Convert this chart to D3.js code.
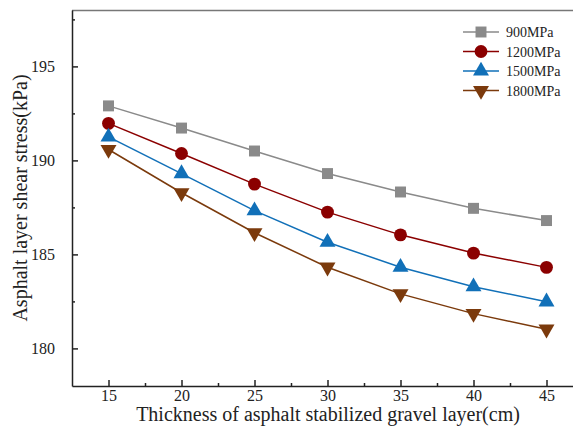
<!DOCTYPE html>
<meta charset="utf-8">
<style>
body { margin: 0; background: #fff; }
text { font-family: "Liberation Serif", "Times New Roman", serif; fill: #222; }
</style>
<body>
<svg class="chart"></svg>
<script src="https://cdn.jsdelivr.net/npm/d3@7"></script>
<script>
// thickness (cm)
var thickness = [15, 20, 25, 30, 35, 40, 45];
var seriesNames = ["900MPa", "1200MPa", "1500MPa", "1800MPa"];
var s900  = [192.9, 191.72, 190.5, 189.3, 188.32, 187.45, 186.8];
var s1200 = [191.97, 190.37, 188.74, 187.25, 186.04, 185.07, 184.31];
var s1500 = [191.25, 189.3, 187.33, 185.65, 184.32, 183.28, 182.48];
var s1800 = [190.58, 188.28, 186.15, 184.32, 182.9, 181.85, 181.02];
var xTicks = [15, 20, 25, 30, 35, 40, 45];
var yTicks = [180, 185, 190, 195];

var width = 573, height = 439;
var colors = ["#8a8a8a", "#8b0000", "#1170b8", "#7b3a0c"];
var symbols = [d3.symbolSquare, d3.symbolCircle, d3.symbolTriangle, "down"];
var allSeries = [s900, s1200, s1500, s1800];

var svg = d3.select(".chart").attr("width", width).attr("height", height);

var x = d3.scaleLinear().domain([12.5, 47.5]).range([72, 583]);
var y = d3.scaleLinear().domain([178, 198]).range([386, 10]);

// frame top line
svg.append("line")
  .attr("x1", 72).attr("x2", width).attr("y1", 10.5).attr("y2", 10.5)
  .attr("stroke", "#777").attr("stroke-width", 1.5);

function axisStyle(g) {
  g.select(".domain").attr("stroke", "#222").attr("stroke-width", 1.5);
  g.selectAll(".tick line").attr("stroke", "#222").attr("stroke-width", 1.5);
  g.selectAll(".tick text").attr("font-size", "16px").attr("fill", "#222");
}

// minor ticks
var xMinor = d3.range(17.5, 47.6, 5);
var yMinor = [182.5, 187.5, 192.5, 197.5];

svg.append("g").attr("transform", "translate(0,386)")
  .call(d3.axisTop(x).tickValues(xMinor).tickSize(3).tickFormat(""))
  .call(function (g) { g.select(".domain").remove(); g.selectAll(".tick line").attr("stroke", "#222").attr("stroke-width", 1.5); });
svg.append("g").attr("transform", "translate(72,0)")
  .call(d3.axisRight(y).tickValues(yMinor).tickSize(3).tickFormat(""))
  .call(function (g) { g.select(".domain").remove(); g.selectAll(".tick line").attr("stroke", "#222").attr("stroke-width", 1.5); });

svg.append("g").attr("transform", "translate(0,386)")
  .call(d3.axisBottom(x).tickValues(xTicks).tickSizeInner(-6).tickSizeOuter(0).tickPadding(4))
  .call(axisStyle);
svg.append("g").attr("transform", "translate(72,0)")
  .call(d3.axisLeft(y).tickValues(yTicks).tickSizeInner(-6).tickSizeOuter(0).tickPadding(17))
  .call(axisStyle);

svg.append("text")
  .attr("x", 328).attr("y", 421)
  .attr("text-anchor", "middle").attr("font-size", "20px")
  .text("Thickness of asphalt stabilized gravel layer(cm)");

svg.append("text")
  .attr("transform", "translate(27,198) rotate(-90)")
  .attr("text-anchor", "middle").attr("font-size", "20px")
  .text("Asphalt layer shear stress(kPa)");

function markerPath(i, size) {
  if (symbols[i] === "down") {
    return d3.symbol().type(d3.symbolTriangle).size(size)();
  }
  return d3.symbol().type(symbols[i]).size(size)();
}
var markerSize = [120, 130, 110, 110];

var line = d3.line()
  .x(function (d, i) { return x(thickness[i]); })
  .y(function (d) { return y(d); });

allSeries.forEach(function (vals, i) {
  var g = svg.append("g");
  g.append("path").datum(vals)
    .attr("d", line).attr("fill", "none")
    .attr("stroke", colors[i]).attr("stroke-width", 1.5);
  g.selectAll("path.pt").data(vals).enter().append("path")
    .attr("class", "pt")
    .attr("d", markerPath(i, markerSize[i]))
    .attr("transform", function (d, j) {
      return "translate(" + x(thickness[j]) + "," + y(d) + ")" + (symbols[i] === "down" ? " rotate(180)" : "");
    })
    .attr("fill", colors[i]);
});

// legend
var legend = svg.append("g").attr("transform", "translate(463,32)");
seriesNames.forEach(function (name, i) {
  var row = legend.append("g").attr("transform", "translate(0," + i * 19.5 + ")");
  row.append("line").attr("x1", 0).attr("x2", 36).attr("y1", 0).attr("y2", 0)
    .attr("stroke", colors[i]).attr("stroke-width", 1.5);
  row.append("path").attr("d", markerPath(i, markerSize[i]))
    .attr("transform", "translate(18,0)" + (symbols[i] === "down" ? " rotate(180)" : ""))
    .attr("fill", colors[i]);
  row.append("text").attr("x", 43).attr("y", 5).attr("font-size", "14px").text(name);
});
</script>
</body>
